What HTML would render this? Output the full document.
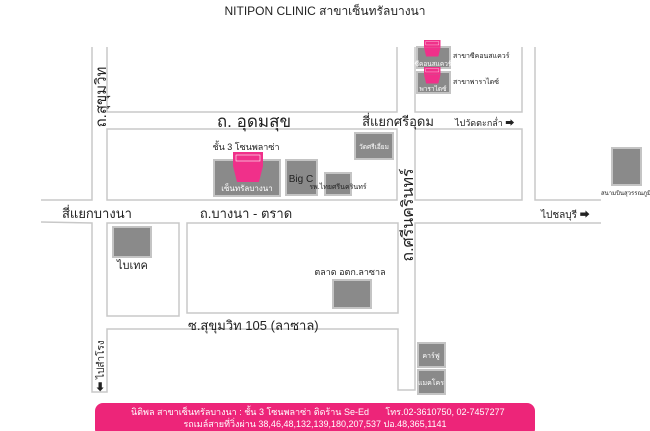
<!DOCTYPE html>
<html><head><meta charset="utf-8"><style>
html,body{margin:0;padding:0;background:#fff;}
svg{display:block;font-family:"Liberation Sans","Noto Sans CJK SC",sans-serif;}
</style></head><body>
<svg width="650" height="431" viewBox="0 0 650 431" xmlns="http://www.w3.org/2000/svg">
<defs>
<g id="pin">
<rect x="0" y="0" width="30" height="14" fill="#f0308a"/>
<rect x="3" y="3" width="24" height="6" fill="none" stroke="#fff" stroke-width="0.6"/>
<polygon points="0,14 30,14 26,30 4,30" fill="#f0308a"/>
</g>
</defs>
<text x="325" y="15" text-anchor="middle" font-size="12" fill="#222">NITIPON CLINIC สาขาเซ็นทรัลบางนา</text>
<g fill="none" stroke="#c8c8c8" stroke-width="1.5">
<polyline points="92,47 92,200 41,200"/>
<polyline points="41,222 92,223 92,392 107,392 107,329 398,329 398,390 415,390 415,223 601,223"/>
<polyline points="107,47 107,112 397,112 397,47"/>
<polyline points="415,47 415,112 522,112 522,47"/>
<polyline points="535,47 535,200 601,200"/>
<polygon points="107,129 397,129 397,200 107,200"/>
<polygon points="415,129 522,129 522,200 415,200"/>
<polygon points="107,223 179,223 179,316 107,316"/>
<polygon points="187,223 398,223 398,313 187,313"/>
</g>
<g fill="#8a8a8a" stroke="#c4c4c4" stroke-width="2">
<rect x="214" y="160" width="66" height="36"/>
<rect x="286" y="160" width="31" height="35"/>
<rect x="325" y="173" width="26" height="22"/>
<rect x="355" y="133" width="38" height="26"/>
<rect x="417" y="47" width="33" height="21"/>
<rect x="417" y="72" width="33" height="21"/>
<rect x="612" y="148" width="29" height="37"/>
<rect x="113" y="227" width="38" height="30"/>
<rect x="333" y="280" width="38" height="28"/>
<rect x="418" y="343" width="27" height="24"/>
<rect x="418" y="370" width="27" height="24"/>
</g>
<use href="#pin" x="233" y="152"/>
<use href="#pin" transform="translate(424,40) scale(0.55)"/>
<use href="#pin" transform="translate(424,67) scale(0.55)"/>
<g fill="#fff" font-size="8" text-anchor="middle">
<text x="247" y="191">เซ็นทรัลบางนา</text>
<text x="433" y="66" font-size="6.5">ซีคอนสแควร์</text>
<text x="433" y="91" font-size="6.5">พาราไดซ์</text>
<text x="431" y="358" font-size="7">คาร์ฟู</text>
<text x="431" y="385" font-size="7">แมคโคร</text>
<text x="374" y="149" font-size="6.5">วัดศรีเอี่ยม</text>
</g>
<g fill="#222">
<text x="301" y="182" font-size="10" text-anchor="middle">Big C</text>
<text x="338" y="189" font-size="7" text-anchor="middle">รพ.ไทยศรีนครินทร์</text>
<text x="246" y="150" font-size="9" text-anchor="middle">ชั้น 3  โซนพลาซ่า</text>
<text x="453" y="58" font-size="7">สาขาซีคอนสแควร์</text>
<text x="453" y="84" font-size="7">สาขาพาราไดซ์</text>
<text x="626" y="195" font-size="6" text-anchor="middle">สนามบินสุวรรณภูมิ</text>
<text x="117" y="269" font-size="11">ไบเทค</text>
<text x="350" y="275" font-size="9" text-anchor="middle">ตลาด อตก.ลาซาล</text>
<text x="254" y="127" font-size="17" text-anchor="middle">ถ. อุดมสุข</text>
<text x="398" y="126" font-size="13" text-anchor="middle">สี่แยกศรีอุดม</text>
<text x="455" y="126" font-size="9">ไปวัดตะกล่ำ ➡</text>
<text x="62" y="218" font-size="13">สี่แยกบางนา</text>
<text x="246" y="218" font-size="13" text-anchor="middle">ถ.บางนา - ตราด</text>
<text x="541" y="218" font-size="10">ไปชลบุรี ➡</text>
<text x="188" y="330" font-size="13">ซ.สุขุมวิท 105 (ลาซาล)</text>
<text transform="translate(106,97) rotate(-90)" font-size="15" text-anchor="middle">ถ.สุขุมวิท</text>
<text transform="translate(413,215) rotate(-90)" font-size="16" text-anchor="middle">ถ.ศรีนครินทร์</text>
<text transform="translate(104,366) rotate(-90)" font-size="10" text-anchor="middle">⬅ ไปสำโรง</text>
</g>
<rect x="95" y="403" width="440" height="34" rx="8" fill="#ed2579"/>
<g fill="#fff" font-size="9" text-anchor="middle">
<text x="250" y="415">นิติพล สาขาเซ็นทรัลบางนา : ชั้น 3 โซนพลาซ่า ติดร้าน Se-Ed</text>
<text x="445" y="415">โทร.02-3610750, 02-7457277</text>
<text x="315" y="427">รถเมล์สายที่วิ่งผ่าน 38,46,48,132,139,180,207,537  ปอ.48,365,1141</text>
</g>
</svg>
</body></html>
